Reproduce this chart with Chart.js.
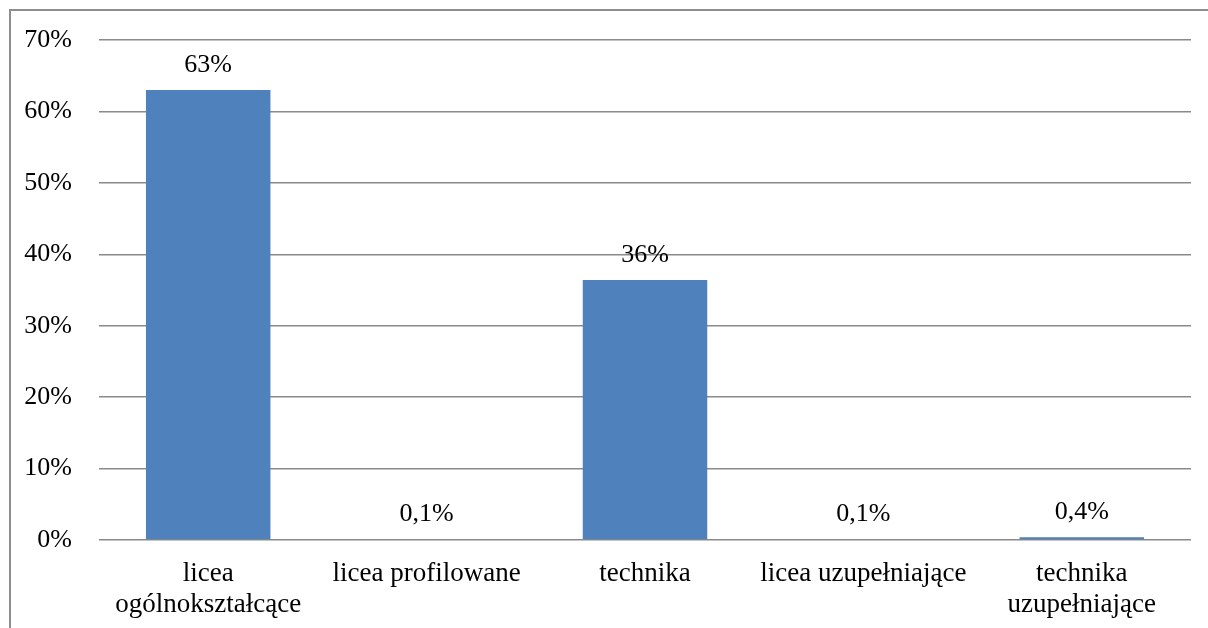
<!DOCTYPE html>
<html>
<head>
<meta charset="utf-8">
<script src="https://cdn.jsdelivr.net/npm/chart.js@4"></script>
<style>
    html, body { margin: 0; padding: 0; background: #fff; }
    #wrap { position: relative; width: 1208px; height: 628px; }
    #frame { position: absolute; left: 9px; top: 9px; right: 0; bottom: 0; border-left: 2px solid #8e8e8e; border-top: 2px solid #8e8e8e; }
    canvas { position: absolute; left: 0; top: 0; }
</style>
</head>
<body>
<div id="wrap">
    <div id="frame"></div>
    <canvas id="chart" width="1208" height="628"></canvas>
</div>
<script>
// categories and values (percent)
const categories = [
    ['licea', 'ogólnokształcące'],
    'licea profilowane',
    'technika',
    'licea uzupełniające',
    ['technika', 'uzupełniające']
];
const shares = [63, 0.1, 36.4, 0.1, 0.4];
const yTicks = [0, 10, 20, 30, 40, 50, 60, 70];

const serif = '"Liberation Serif", "Times New Roman", serif';

function fmt(v) {
    // Polish style: decimal comma, small values keep one decimal
    return (v < 1 ? v.toFixed(1).replace('.', ',') : Math.round(v)) + '%';
}

// draw value labels above bars
const valueLabels = {
    id: 'valueLabels',
    afterDatasetsDraw(chart) {
        const ctx = chart.ctx;
        const meta = chart.getDatasetMeta(0);
        ctx.save();
        ctx.font = '26px ' + serif;
        ctx.fillStyle = '#000';
        ctx.textAlign = 'center';
        ctx.textBaseline = 'middle';
        meta.data.forEach((bar, i) => {
            ctx.fillText(fmt(shares[i]), bar.x, bar.y - 25);
        });
        ctx.restore();
    }
};

const ctx = document.getElementById('chart').getContext('2d');
new Chart(ctx, {
    type: 'bar',
    data: {
        labels: categories,
        datasets: [{
            data: shares,
            backgroundColor: '#4F81BD',
            borderWidth: 0,
            barPercentage: 0.57,
            categoryPercentage: 1
        }]
    },
    options: {
        responsive: false,
        animation: false,
        layout: { padding: { top: 40, right: 17, left: 0, bottom: 0 } },
        plugins: {
            legend: { display: false },
            tooltip: { enabled: false }
        },
        scales: {
            y: {
                min: 0,
                max: 70,
                afterBuildTicks: s => { s.ticks = yTicks.map(v => ({ value: v })); },
                afterFit: s => {
                    s.width = 99;
                    // tick padding should not push the plot area down
                    s.paddingTop = 16;
                    s.paddingBottom = 16;
                },
                ticks: {
                    padding: 27,
                    color: '#000',
                    font: { family: serif, size: 26 },
                    callback: v => v + '%'
                },
                grid: { color: '#8a8a8a', lineWidth: 1.5, drawTicks: false },
                border: { display: false }
            },
            x: {
                afterFit: s => { s.height = 88; },
                ticks: {
                    padding: 18,
                    color: '#000',
                    maxRotation: 0,
                    autoSkip: false,
                    font: { family: serif, size: 27, lineHeight: 1.15 }
                },
                grid: { display: false, drawTicks: false },
                border: { display: false }
            }
        }
    },
    plugins: [valueLabels]
});
</script>
</body>
</html>
